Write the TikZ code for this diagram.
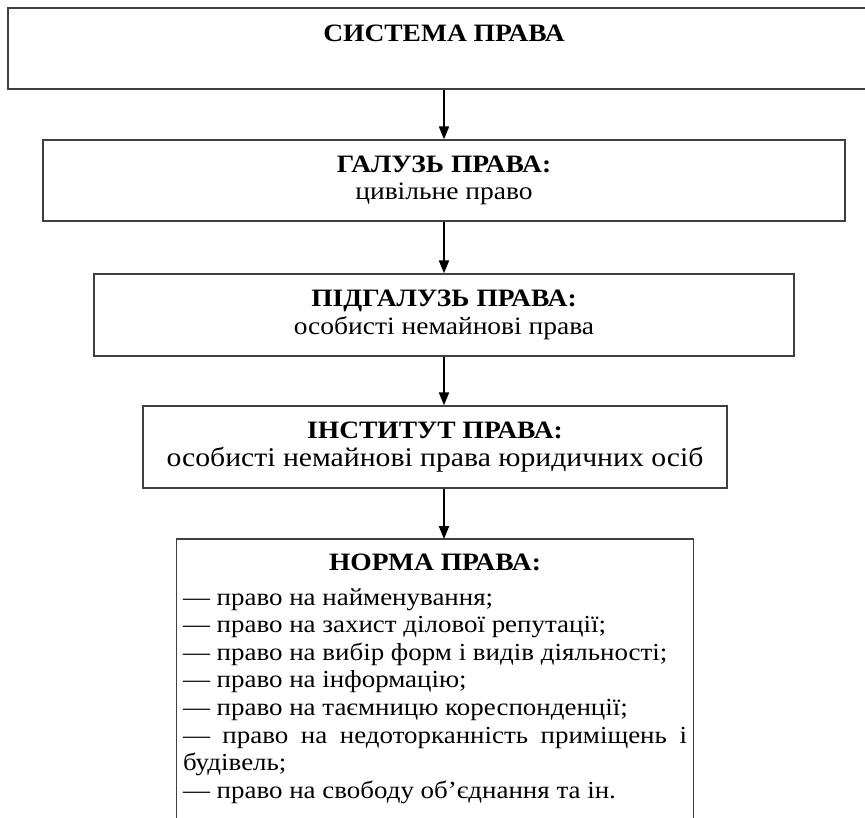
\documentclass[tikz,border=0pt]{standalone}
\usepackage{fontspec}
\setmainfont{Liberation Serif}[FakeStretch=1.1]
\usetikzlibrary{arrows.meta}
\tikzstyle{block} = [rectangle, draw=black!75, line width=1.3pt,
    align=center, inner sep=0pt]
\tikzstyle{frame} = [draw=black!75, line width=1.3pt]
\tikzstyle{link} = [-{Triangle[length=13pt,width=10pt]}, line width=2pt]
\newcommand{\bodysize}{\fontsize{24.5}{27.6}\selectfont}

\begin{document}
\begin{tikzpicture}[x=1pt, y=-1pt, font=\fontsize{25}{27.5}\selectfont]
	\useasboundingbox (0,0) rectangle (865,817);
	\clip (0,0) rectangle (865,817);
	\node [block, minimum width=872pt, minimum height=81pt] (system) at (444,48.5) {\textbf{СИСТЕМА ПРАВА}\\[-5pt] \strut};
	\node [block, minimum width=802pt, minimum height=81pt] (branch) at (444,180.5) {\textbf{ГАЛУЗЬ ПРАВА:}\\ цивільне право};
	\node [block, minimum width=700pt, minimum height=82pt] (subbranch) at (444,315) {\textbf{ПІДГАЛУЗЬ ПРАВА:}\\ особисті немайнові права};
	\node [block, minimum width=584pt, minimum height=82pt] (institute) at (435,447) {\textbf{ІНСТИТУТ ПРАВА:}\\ {\fontsize{27}{27.5}\selectfont особисті немайнові права юридичних осіб}};
	\node [anchor=north, text width=504pt, align=justify, inner xsep=6pt, inner ysep=12pt] (norm) at (435,539) {%
		{\centering\strut\textbf{НОРМА ПРАВА:}\par}
		\vspace{7pt}\bodysize
		— право на найменування;\par
		— право на захист ділової репутації;\par
		— право на вибір форм і видів діяльності;\par
		— право на інформацію;\par
		— право на таємницю кореспонденції;\par
		— право на недоторканність приміщень і\linebreak будівель;\par
		— право на свободу об’єднання та ін.};
	% open frame, runs past the bottom edge
	\draw [frame] ([yshift=-60pt]norm.south west) |- (norm.north) -| ([yshift=-60pt]norm.south east);

        \draw[link] (system.south) -- (branch.north);
        \draw[link] (branch.south) -- (subbranch.north);
        \draw[link] (subbranch.south) -- (subbranch.south |- institute.north);
        \draw[link] (subbranch.south |- institute.south) -- (subbranch.south |- norm.north);
\end{tikzpicture}
\end{document}
